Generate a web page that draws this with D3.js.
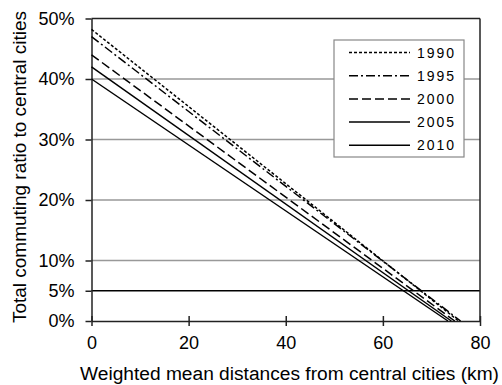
<!DOCTYPE html>
<html>
<head>
<meta charset="utf-8">
<script src="https://cdn.jsdelivr.net/npm/d3@7"></script>
<style>
  body { margin: 0; background: #fff; }
  text { font-family: "Liberation Sans", Arial, sans-serif; fill: #000; }
</style>
</head>
<body>
<svg id="chart" width="502" height="385"></svg>
<script>
// values: each year is a straight line from its intercept at 0 km down to 0%
const years = ["1990", "1995", "2000", "2005", "2010"];
const startShare = [0.482, 0.470, 0.440, 0.420, 0.400];
const endDistance = [75.6, 76.0, 74.8, 74.1, 73.4];
const dashes = ["3,2", "9,3,2,3", "9,4", null, null];
const xTicks = [0, 20, 40, 60, 80];
const yTicks = [0, 0.05, 0.1, 0.2, 0.3, 0.4, 0.5];
const gridTicks = [0.1, 0.2, 0.3, 0.4];

const svg = d3.select("#chart");
const plotLeft = 91.5, plotRight = 480, plotTop = 18.5, plotBottom = 321;

const x = d3.scaleLinear().domain([0, 80]).range([plotLeft, plotRight]);
const y = d3.scaleLinear().domain([0, 0.5]).range([plotBottom, plotTop]);

// grid
svg.selectAll(".grid").data(gridTicks).enter().append("line")
  .attr("x1", plotLeft).attr("x2", plotRight)
  .attr("y1", d => y(d)).attr("y2", d => y(d))
  .attr("stroke", "#999").attr("stroke-width", 1.5);

// 5% reference line and frame top/right
svg.append("line").attr("x1", plotLeft).attr("x2", plotRight)
  .attr("y1", y(0.05)).attr("y2", y(0.05)).attr("stroke", "#000").attr("stroke-width", 1.5);
svg.append("line").attr("x1", plotLeft).attr("x2", plotRight)
  .attr("y1", y(0.5)).attr("y2", y(0.5)).attr("stroke", "#222").attr("stroke-width", 1.5);
svg.append("line").attr("x1", plotRight).attr("x2", plotRight)
  .attr("y1", y(0.5)).attr("y2", y(0)).attr("stroke", "#222").attr("stroke-width", 1.5);

// axes
const xAxis = svg.append("g").attr("transform", `translate(0,${plotBottom})`)
  .call(d3.axisBottom(x).tickValues(xTicks).tickSize(6).tickSizeOuter(0).tickPadding(9));
const yAxis = svg.append("g").attr("transform", `translate(${plotLeft},0)`)
  .call(d3.axisLeft(y).tickValues(yTicks).tickFormat(d3.format(".0%")).tickSize(6).tickSizeOuter(0).tickPadding(11));
[xAxis, yAxis].forEach(g => {
  g.select(".domain").attr("stroke", "#222").attr("stroke-width", 1.5);
  g.selectAll(".tick line").attr("stroke", "#222").attr("stroke-width", 1.5);
  g.selectAll(".tick text").attr("font-size", 18).attr("font-family", "Liberation Sans, Arial, sans-serif");
});
// x ticks sit across the axis line
xAxis.selectAll(".tick line").attr("y1", -5).attr("y2", 5);

// series lines
const line = d3.line().x(d => x(d[0])).y(d => y(d[1]));
years.forEach((yr, i) => {
  svg.append("path")
    .datum([[0, startShare[i]], [endDistance[i], 0]])
    .attr("d", line)
    .attr("fill", "none")
    .attr("stroke", "#000")
    .attr("stroke-width", 1.5)
    .attr("stroke-dasharray", dashes[i]);
});

// axis titles
svg.append("text")
  .attr("x", 80).attr("y", 380)
  .attr("font-size", 18)
  .attr("textLength", 419).attr("lengthAdjust", "spacingAndGlyphs")
  .text("Weighted mean distances from central cities (km)");
svg.append("text")
  .attr("transform", "translate(25.5,323) rotate(-90)")
  .attr("font-size", 18)
  .attr("textLength", 312).attr("lengthAdjust", "spacingAndGlyphs")
  .text("Total commuting ratio to central cities");

// legend
const lg = svg.append("g").attr("transform", "translate(334,40)");
lg.append("rect").attr("width", 130).attr("height", 117)
  .attr("fill", "#fff").attr("stroke", "#888").attr("stroke-width", 1.2);
years.forEach((yr, i) => {
  const row = lg.append("g").attr("transform", `translate(0,${12.5 + i * 23.2})`);
  row.append("line").attr("x1", 15).attr("x2", 76)
    .attr("stroke", "#000").attr("stroke-width", 1.5)
    .attr("stroke-dasharray", dashes[i]);
  row.append("text").attr("x", 83).attr("y", 5)
    .attr("font-size", 14)
    .attr("textLength", 37).attr("lengthAdjust", "spacing")
    .text(yr);
});
</script>
</body>
</html>
